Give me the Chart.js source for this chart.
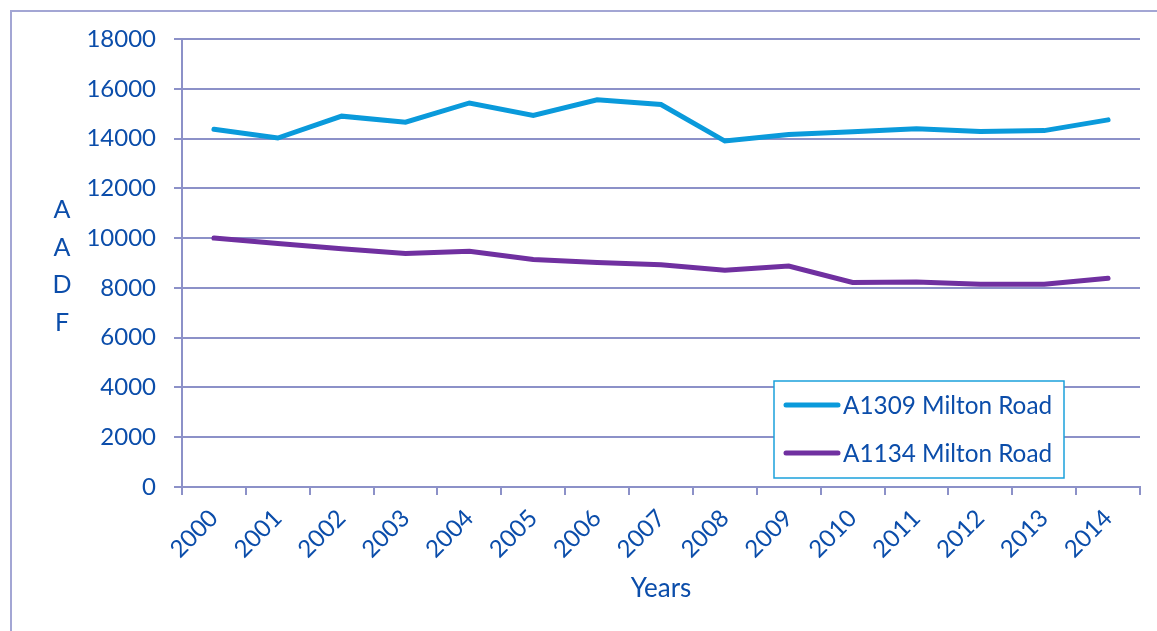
<!DOCTYPE html>
<html>
<head>
<meta charset="utf-8">
<script src="https://cdn.jsdelivr.net/npm/chart.js@4"></script>
<style>
  html, body { margin: 0; padding: 0; background: #fff; }
  #wrap { position: relative; width: 1157px; height: 631px; overflow: hidden; }
  #frame { position: absolute; left: 10px; top: 10px; width: 1200px; height: 700px; border: 2px solid #A3A6D4; box-sizing: border-box; }
  canvas { position: absolute; left: 0; top: 0; }
</style>
</head>
<body>
<div id="wrap">
  <div id="frame"></div>
  <canvas id="c" width="1157" height="631"></canvas>
</div>
<script>
const years = ['2000','2001','2002','2003','2004','2005','2006','2007','2008','2009','2010','2011','2012','2013','2014'];
const a1309 = [14370, 14020, 14900, 14660, 15430, 14930, 15560, 15370, 13900, 14160, 14270, 14390, 14280, 14320, 14750];
const a1134 = [10000, 9780, 9570, 9380, 9470, 9140, 9020, 8930, 8710, 8880, 8220, 8240, 8150, 8150, 8390];
const seriesNames = ['A1309 Milton Road', 'A1134 Milton Road'];
const yTitleLetters = ['A', 'A', 'D', 'F'];
const xTitle = 'Years';

const TEXT = '#0B4DAA';
const GRID = '#8C91C8';
const FONT = 'Lato, "Open Sans", sans-serif';

const yTitlePlugin = {
  id: 'yTitle',
  afterDraw(chart) {
    const ctx = chart.ctx;
    const y = chart.scales.y;
    ctx.save();
    ctx.fillStyle = TEXT;
    ctx.font = '25px ' + FONT;
    ctx.textAlign = 'center';
    ctx.textBaseline = 'middle';
    const startY = y.getPixelForValue(11000) - 3;
    yTitleLetters.forEach((l, i) => ctx.fillText(l, 62, startY + i * 37.5));
    ctx.restore();
  }
};

const legendPlugin = {
  id: 'boxLegend',
  afterDraw(chart) {
    const ctx = chart.ctx;
    const left = 774, top = 381, w = 290, h = 97;
    ctx.save();
    ctx.fillStyle = '#fff';
    ctx.fillRect(left, top, w, h);
    ctx.strokeStyle = '#1BA1DB';
    ctx.lineWidth = 1.5;
    ctx.strokeRect(left, top, w, h);
    ctx.font = '24.3px ' + FONT;
    ctx.textBaseline = 'middle';
    ctx.textAlign = 'left';
    chart.data.datasets.forEach((ds, i) => {
      const cy = top + 24 + i * 48;
      ctx.strokeStyle = ds.borderColor;
      ctx.lineWidth = 5;
      ctx.lineCap = 'round';
      ctx.beginPath();
      ctx.moveTo(786, cy);
      ctx.lineTo(838, cy);
      ctx.stroke();
      ctx.fillStyle = TEXT;
      ctx.fillText(ds.label, 843, cy + 1);
    });
    ctx.restore();
  }
};

new Chart(document.getElementById('c'), {
  type: 'line',
  data: {
    labels: years,
    datasets: [
      { label: seriesNames[0], data: a1309, borderColor: '#0A9ADB', borderWidth: 5, pointRadius: 0, tension: 0, borderCapStyle: 'round', borderJoinStyle: 'miter' },
      { label: seriesNames[1], data: a1134, borderColor: '#7030A0', borderWidth: 5, pointRadius: 0, tension: 0, borderCapStyle: 'round', borderJoinStyle: 'miter' }
    ]
  },
  options: {
    responsive: false,
    animation: false,
    devicePixelRatio: 1,
    layout: { padding: { left: 0, right: 17, top: 39, bottom: 0 } },
    plugins: { legend: { display: false }, tooltip: { enabled: false } },
    scales: {
      x: {
        offset: true,
        afterFit(scale) { scale.height = 144; },
        grid: { offset: true, drawOnChartArea: false, color: GRID, lineWidth: 2, tickLength: 8 },
        border: { color: GRID, width: 2 },
        ticks: { color: TEXT, font: { family: FONT, size: 24 }, minRotation: 45, maxRotation: 45, padding: 9 },
        title: { display: true, text: xTitle, color: TEXT, font: { family: FONT, size: 26 }, padding: { top: 4, bottom: 27 } }
      },
      y: {
        min: 0, max: 18000,
        afterFit(scale) { scale.width = 182; },
        ticks: { stepSize: 2000, color: TEXT, font: { family: FONT, size: 24 }, padding: 18,
                 callback: (v) => String(v) },
        grid: { color: GRID, lineWidth: 2, tickLength: 8 },
        border: { color: GRID, width: 2 }
      }
    }
  },
  plugins: [yTitlePlugin, legendPlugin]
});
</script>
</body>
</html>
